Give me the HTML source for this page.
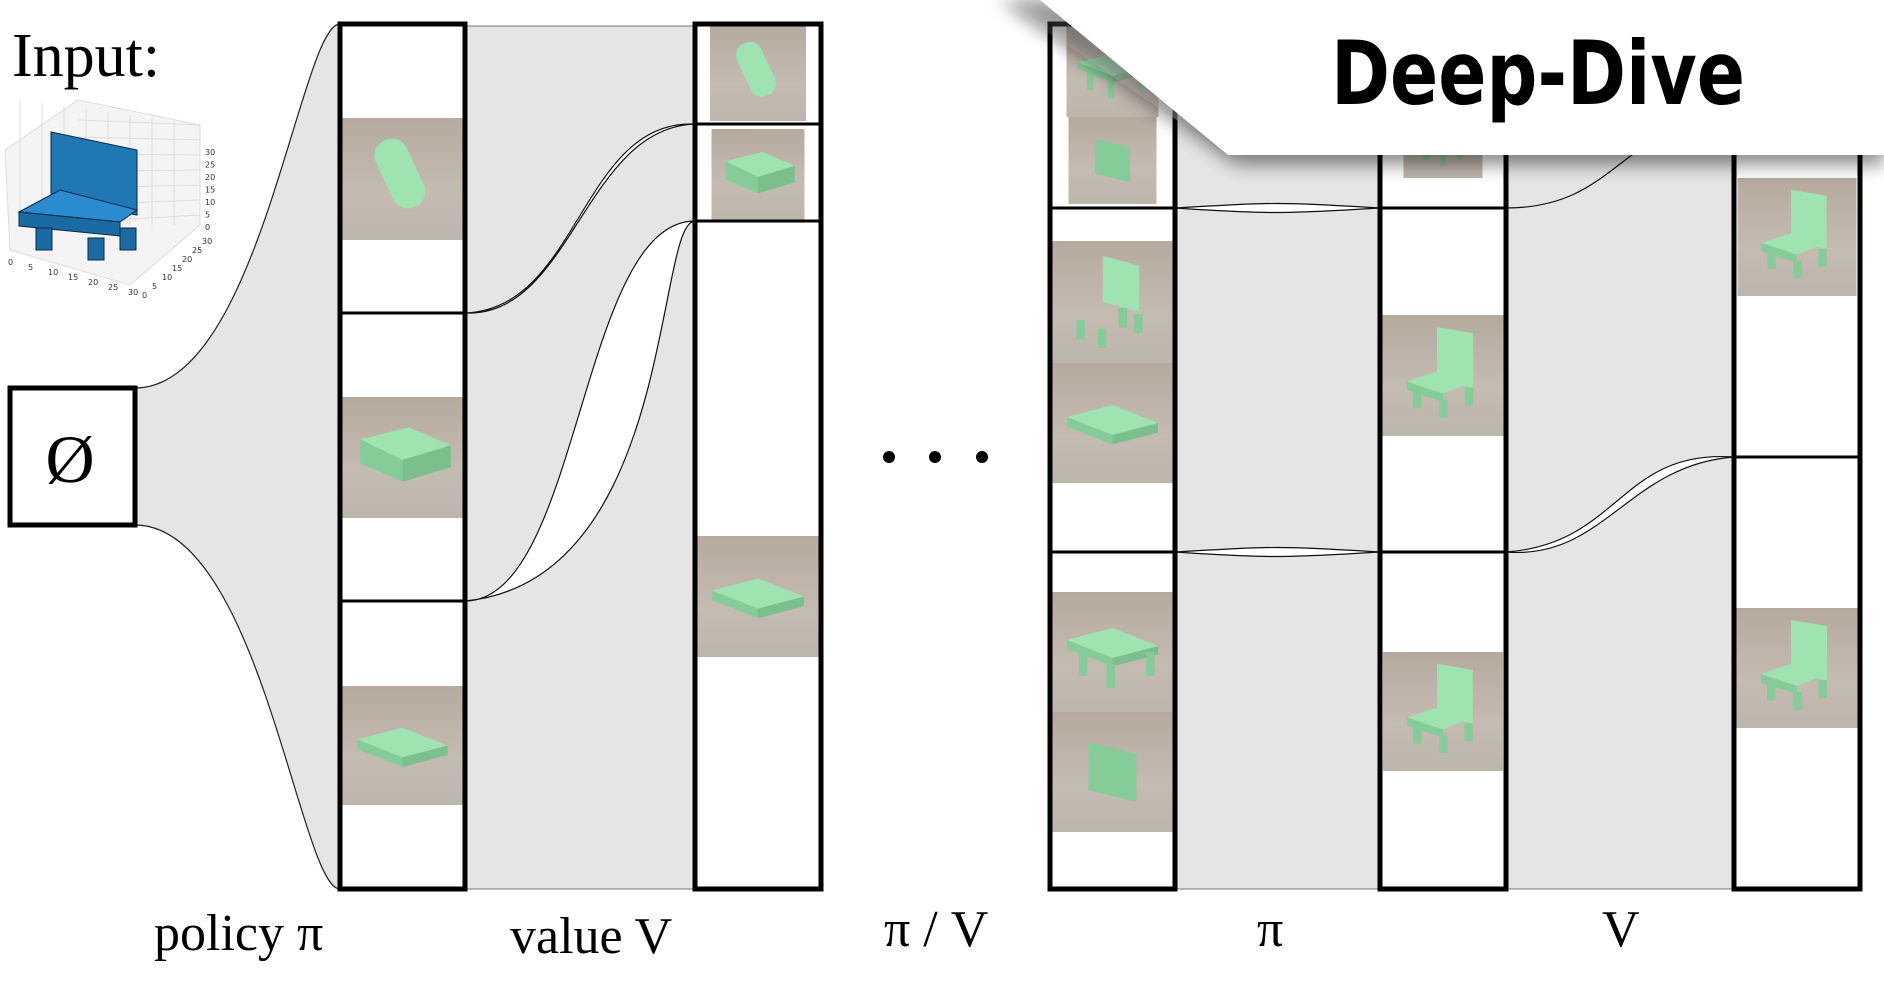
<!DOCTYPE html>
<html><head><meta charset="utf-8"><style>
html,body{margin:0;padding:0;background:#fff;}
svg{display:block;}
</style></head><body>
<svg id="chart" width="1884" height="1000" viewBox="0 0 1884 1000" xmlns="http://www.w3.org/2000/svg">
<defs>
<linearGradient id="thumb" x1="0" y1="0" x2="0" y2="1">
<stop offset="0" stop-color="#b6aa9e"/><stop offset="0.6" stop-color="#c4bbb1"/><stop offset="1" stop-color="#bdb6ad"/>
</linearGradient>
<linearGradient id="curl" x1="0" y1="0" x2="1" y2="0">
<stop offset="0" stop-color="#fff" stop-opacity="0"/><stop offset="1" stop-color="#888" stop-opacity="0.6"/>
</linearGradient>
<filter id="sh" x="-10%" y="-10%" width="130%" height="160%"><feGaussianBlur stdDeviation="9"/></filter>
</defs>
<g id="layer"></g>
</svg>
<script>
const colNames = ['policy-col-1','value-col-2','col-3','policy-col-4','value-col-5'];
const colX = [[340,465],[695,821],[1050,1175],[1380,1506],[1734,1860]];
const colDividers = [[313,601],[124,221],[208,552],[208,552],[125,457]];
const colThumbs = [
  [[118,240,'cyl'],[397,518,'box'],[686,805,'flat']],
  [[26,121,'cyl'],[129,221,'box'],[536,657,'flat']],
  [[26,117,'table'],[117,204,'panel'],[241,363,'back'],[363,483,'flat'],[592,712,'table'],[712,832,'panel']],
  [[100,178,'chair'],[315,436,'chair'],[652,771,'chair']],
  [[178,296,'chair'],[608,728,'chair']]
];
const gaps = [[465,695],[1175,1380],[1506,1734]];
const flows = [ // [gapIndex, y0, y1, bulge, wide]
  [0,313,124,4,0],[0,601,221,10,1],
  [1,208,208,6,0],[1,552,552,6,0],
  [2,552,457,8,0],[2,208,120,0,0]
];
const labels = [['policy π',154,950],['value V',510,953],['π / V',884,946],['π',1257,946],['V',1602,946]];

const NS='http://www.w3.org/2000/svg';
const L=document.getElementById('layer');
function mk(t,a,p){const e=document.createElementNS(NS,t);for(const k in a)e.setAttribute(k,a[k]);(p||L).appendChild(e);return e;}

gaps.forEach((g,i)=>{
  const r=mk('rect',{x:g[0],y:26,width:g[1]-g[0],height:863,fill:'#e5e5e5',stroke:'#555','stroke-width':0.8});
  
  
});
const fun=mk('path',{d:'M135 388 C260 388 300 24 340 24 L340 889 C300 889 260 525 135 525 Z',fill:'#e5e5e5',stroke:'#222','stroke-width':1.2});



flows.forEach((f,i)=>{
  const g=gaps[f[0]];const x0=g[0],x1=g[1],y0=f[1],y1=f[2],b=f[3];
  const m=(x0+x1)/2;
  let d;
  if(f[4]){
    d='M'+x0+' '+y0+' C'+(m)+' '+(y0)+' '+(m)+' '+(y1)+' '+x1+' '+y1+
      ' C'+(x1-40)+' '+(y1)+' '+(x1-20)+' '+(y0-20)+' '+x0+' '+y0+'Z';
  } else {
    d='M'+x0+' '+y0+' C'+(m)+' '+(y0-b)+' '+(m)+' '+(y1-b)+' '+x1+' '+y1+
      ' C'+(m+b)+' '+(y1+b)+' '+(m-b*2)+' '+(y0+b)+' '+x0+' '+y0+'Z';
  }
  const p=mk('path',{d:d,fill:'#fff',stroke:'#111','stroke-width':1.2});
  
  
});

function shape(kind,x0,y0,w,h,g){
  const cx=x0+w/2,cy=y0+h/2,s=Math.min(w,h)/100;
  const G='#9fe3b0',D='#86cc98',E='#7bbf8c';
  const poly=(pts,c)=>mk('polygon',{points:pts.map(p=>(cx+p[0]*s)+','+(cy+p[1]*s)).join(' '),fill:c},g);
  if(kind==='cyl'){mk('rect',{x:cx-14*s,y:cy-35*s,width:28*s,height:60*s,rx:13*s,fill:G,transform:'rotate(-25 '+cx+' '+cy+')'},g);}
  else if(kind==='box'){poly([[-35,-15],[5,-25],[40,-10],[0,2]],G);poly([[-35,-15],[0,2],[0,20],[-35,5]],D);poly([[0,2],[40,-10],[40,8],[0,20]],E);}
  else if(kind==='flat'){poly([[-38,-5],[0,-15],[38,0],[0,10]],G);poly([[-38,-5],[0,10],[0,18],[-38,3]],D);poly([[0,10],[38,0],[38,8],[0,18]],E);}
  else if(kind==='panel'){poly([[-20,-25],[20,-15],[20,25],[-20,15]],D);}
  else if(kind==='table'){poly([[-38,-10],[0,-20],[38,-5],[0,5]],G);poly([[-38,-10],[0,5],[0,12],[-38,-3]],D);poly([[0,5],[38,-5],[38,2],[0,12]],E);
    [[-28,0],[-5,10],[28,0]].forEach(p=>mk('rect',{x:cx+p[0]*s,y:cy+p[1]*s,width:7*s,height:20*s,fill:D},g));}
  else if(kind==='back'){poly([[-8,-38],[22,-30],[22,8],[-8,0]],G);
    [[-30,15],[-12,22],[5,5],[18,10]].forEach(p=>mk('rect',{x:cx+p[0]*s,y:cy+p[1]*s,width:7*s,height:16*s,fill:D},g));}
  else if(kind==='chair'){poly([[-5,-40],[25,-35],[25,10],[-5,5]],G);poly([[-30,5],[0,-5],[25,5],[0,15]],G);poly([[-30,5],[0,15],[0,22],[-30,12]],D);
    [[-25,12],[-3,20],[18,10]].forEach(p=>mk('rect',{x:cx+p[0]*s,y:cy+p[1]*s,width:7*s,height:15*s,fill:D},g));}
}

colX.forEach((c,i)=>{
  const g=mk('g',{});
  
  
  mk('rect',{x:c[0],y:24,width:c[1]-c[0],height:865,fill:'#fff'},g);
  colThumbs[i].forEach((t,j)=>{
    const tg=mk('g',{},g);
    
    
    const w=Math.min(c[1]-c[0]-4,(t[1]-t[0])+1);
    const x0=c[0]+((c[1]-c[0])-w)/2;
    mk('rect',{x:x0,y:t[0],width:w,height:t[1]-t[0],fill:'url(#thumb)'},tg);
    shape(t[2],x0,t[0],w,t[1]-t[0],tg);
  });
  colDividers[i].forEach(y=>{
    const l=mk('line',{x1:c[0],x2:c[1],y1:y,y2:y,stroke:'#000','stroke-width':3},g);
    
    
  });
  mk('rect',{x:c[0],y:24,width:c[1]-c[0],height:865,fill:'none',stroke:'#000','stroke-width':5},g);
});

const eb=mk('g',{});


mk('rect',{x:10,y:388,width:125,height:137,fill:'#fff',stroke:'#000','stroke-width':5},eb);
const et=mk('text',{x:70,y:482,'text-anchor':'middle','font-family':'Liberation Serif, serif','font-size':68},eb);et.textContent='Ø';

[889,935,982].forEach(x=>{const d=mk('circle',{cx:x,cy:457,r:6,fill:'#000'});
  
  });

labels.forEach(l=>{const t=mk('text',{x:l[1],y:l[2],'font-family':'Liberation Serif, serif','font-size':52,fill:'#000'});t.textContent=l[0];
  
  });

const it=mk('text',{x:12,y:76,'font-family':'Liberation Serif, serif','font-size':62});it.textContent='Input:';



const vp=mk('g',{});


mk('polygon',{points:'5,150 78,100 200,125 200,225 130,285 10,250',fill:'#f4f4f4',stroke:'#ddd'},vp);
for(let k=0;k<8;k++){mk('line',{x1:20+k*22,y1:100+k*3,x2:20+k*22,y2:225,stroke:'#ddd','stroke-width':1},vp);}
for(let k=0;k<7;k++){mk('line',{x1:78,y1:120+k*17,x2:200,y2:125+k*15,stroke:'#ddd','stroke-width':1},vp);}
mk('polygon',{points:'51,132 137,150 137,215 51,200',fill:'#1f77b4',stroke:'#0a2a44'},vp);
mk('polygon',{points:'19,212 60,190 137,210 120,222',fill:'#2a8bd0',stroke:'#0a2a44'},vp);
mk('polygon',{points:'19,212 120,222 120,236 19,226',fill:'#1a6aa3',stroke:'#0a2a44'},vp);
[[36,228],[88,238],[120,228]].forEach(p=>mk('rect',{x:p[0],y:p[1],width:16,height:22,fill:'#1a6aa3',stroke:'#0a2a44'},vp));
const ticks=['0','5','10','15','20','25','30'];
ticks.forEach((t,k)=>{const a=mk('text',{x:8+k*20,y:265+k*5,'font-family':'DejaVu Sans, sans-serif','font-size':8,fill:'#333'},vp);a.textContent=t;
 const b=mk('text',{x:205,y:230-k*12.5,'font-family':'DejaVu Sans, sans-serif','font-size':8,fill:'#333'},vp);b.textContent=t;
 const c=mk('text',{x:142+k*10,y:298-k*9,'font-family':'DejaVu Sans, sans-serif','font-size':8,fill:'#333'},vp);c.textContent=t;});

const bn=mk('g',{});


mk('polygon',{points:'1000,0 1884,0 1884,165 1236,165',fill:'#000',opacity:0.45,filter:'url(#sh)'},bn);
mk('polygon',{points:'1000,0 1228,155 1080,0',fill:'url(#curl)'},bn);
mk('polygon',{points:'1040,0 1884,0 1884,155 1228,155',fill:'#fff'},bn);
const bt=mk('text',{x:1331,y:104,'font-family':'DejaVu Sans, sans-serif','font-weight':'bold','font-size':88,textLength:414,lengthAdjust:'spacingAndGlyphs',fill:'#000'},bn);
bt.textContent='Deep-Dive';
</script>
</body></html>
